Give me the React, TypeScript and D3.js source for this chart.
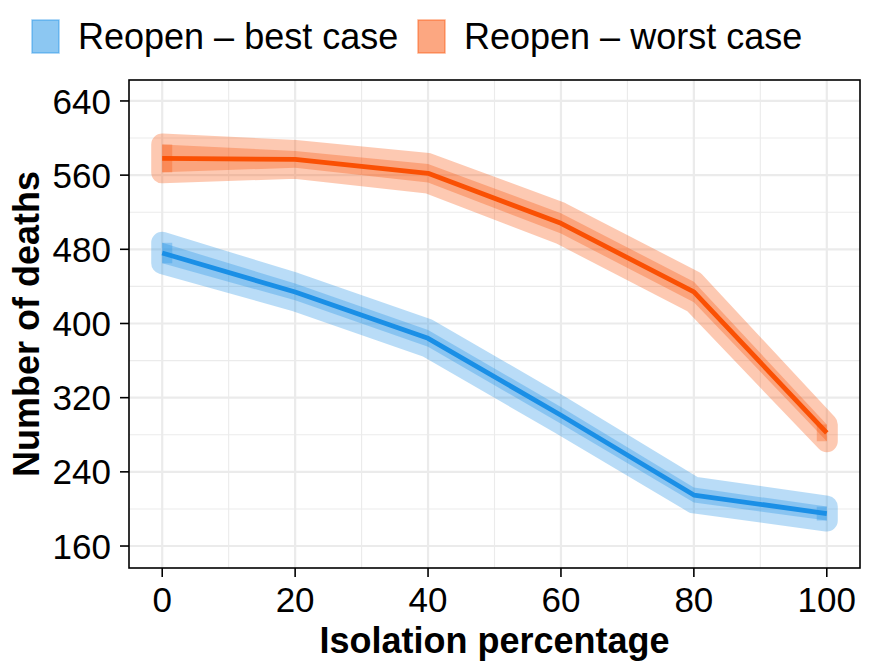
import React from 'react';
import * as d3 from 'd3';

// isolation percentage on x, deaths on y
const isolation = [0, 20, 40, 60, 80, 100];
const bestCase = [476, 434, 384, 301, 215, 195];
const bestSpread = [11, 9, 9, 9, 8, 7.5];
const worstCase = [578, 577, 562, 508, 434, 282];
const worstSpread = [15, 9, 10, 11, 11, 9];

const xTicks = [0, 20, 40, 60, 80, 100];
const xMinor = [10, 30, 50, 70, 90];
const yTicks = [160, 240, 320, 400, 480, 560, 640];
const yMinor = [200, 280, 360, 440, 520, 600];

const seriesNames = ['Reopen \u2013 best case', 'Reopen \u2013 worst case'];
const seriesColors = ['#1A8FE6', '#FA5004'];

const W = 872;
const H = 666;
const panel = { left: 129, right: 860, top: 80, bottom: 568 };
const font = '"Liberation Sans", Arial, Helvetica, sans-serif';

type Pt = { x: number; y: number; lo: number; hi: number };

const App: React.FC = () => {
    const x = d3.scaleLinear().domain([-5, 105]).range([panel.left, panel.right]);
    const y = d3.scaleLinear().domain([136.3, 662.6]).range([panel.bottom, panel.top]);

    const area = d3.area<Pt>()
        .x(d => x(d.x))
        .y0(d => y(d.lo))
        .y1(d => y(d.hi));
    const line = d3.line<Pt>()
        .x(d => x(d.x))
        .y(d => y(d.y));

    const series = [bestCase, worstCase].map((vals, i) => {
        const spread = i === 0 ? bestSpread : worstSpread;
        const pts: Pt[] = vals.map((v, j) => ({
            x: isolation[j], y: v, lo: v - spread[j], hi: v + spread[j],
        }));
        return { name: seriesNames[i], color: seriesColors[i], pts };
    });

    const capW = 10;

    return (
        <svg width={W} height={H} style={{ position: 'absolute', left: 0, top: 0, background: '#fff' }}
            fontFamily={font}>
            <rect x={0} y={0} width={W} height={H} fill="#fff" />

            {/* grid */}
            {xMinor.map(t => (
                <line key={'xm' + t} x1={x(t)} x2={x(t)} y1={panel.top} y2={panel.bottom}
                    stroke="#EBEBEB" strokeWidth={1.1} />
            ))}
            {yMinor.map(t => (
                <line key={'ym' + t} x1={panel.left} x2={panel.right} y1={y(t)} y2={y(t)}
                    stroke="#EBEBEB" strokeWidth={1.1} />
            ))}
            {xTicks.map(t => (
                <line key={'xg' + t} x1={x(t)} x2={x(t)} y1={panel.top} y2={panel.bottom}
                    stroke="#EBEBEB" strokeWidth={2.2} />
            ))}
            {yTicks.map(t => (
                <line key={'yg' + t} x1={panel.left} x2={panel.right} y1={y(t)} y2={y(t)}
                    stroke="#EBEBEB" strokeWidth={2.2} />
            ))}

            {/* ribbons and lines */}
            {series.map(s => {
                const first = s.pts[0];
                const last = s.pts[s.pts.length - 1];
                return (
                    <g key={s.name}>
                        <g opacity={0.3}>
                            <path d={area(s.pts) || ''} fill={s.color} stroke={s.color}
                                strokeWidth={22} strokeLinejoin="round" />
                        </g>
                        <path d={area(s.pts) || ''} fill={s.color} opacity={0.3} />
                        <rect x={x(first.x)} y={y(first.hi)} width={capW}
                            height={y(first.lo) - y(first.hi)} fill={s.color} opacity={0.3} />
                        <rect x={x(last.x) - capW} y={y(last.hi)} width={capW}
                            height={y(last.lo) - y(last.hi)} fill={s.color} opacity={0.3} />
                        <path d={line(s.pts) || ''} fill="none" stroke={s.color}
                            strokeWidth={4.8} strokeLinejoin="round" />
                    </g>
                );
            })}

            {/* panel border */}
            <rect x={panel.left} y={panel.top} width={panel.right - panel.left}
                height={panel.bottom - panel.top} fill="none" stroke="#000" strokeWidth={1.6} />

            {/* y axis */}
            {yTicks.map(t => (
                <g key={'yt' + t}>
                    <line x1={panel.left - 9} x2={panel.left} y1={y(t)} y2={y(t)} stroke="#000" strokeWidth={1.6} />
                    <text x={panel.left - 18} y={y(t)} dy="0.36em" textAnchor="end" fontSize={35} fill="#000">{t}</text>
                </g>
            ))}
            {/* x axis */}
            {xTicks.map(t => (
                <g key={'xt' + t}>
                    <line x1={x(t)} x2={x(t)} y1={panel.bottom} y2={panel.bottom + 9} stroke="#000" strokeWidth={1.6} />
                    <text x={x(t)} y={612} textAnchor="middle" fontSize={35} fill="#000">{t}</text>
                </g>
            ))}

            <text x={(panel.left + panel.right) / 2} y={653} textAnchor="middle" fontSize={36}
                fontWeight="bold" fill="#000">Isolation percentage</text>
            <text transform={`translate(39,${(panel.top + panel.bottom) / 2}) rotate(-90)`}
                textAnchor="middle" fontSize={36} fontWeight="bold" fill="#000">Number of deaths</text>

            {/* legend */}
            {series.map((s, i) => {
                const kx = i === 0 ? 32 : 418;
                return (
                    <g key={'lg' + i}>
                        <rect x={kx} y={20} width={27} height={33} fill={s.color} fillOpacity={0.5}
                            stroke={s.color} strokeOpacity={0.45} strokeWidth={1.5} />
                        <text x={kx + 46} y={49} fontSize={36} fill="#000">{s.name}</text>
                    </g>
                );
            })}
        </svg>
    );
};

export default App;
